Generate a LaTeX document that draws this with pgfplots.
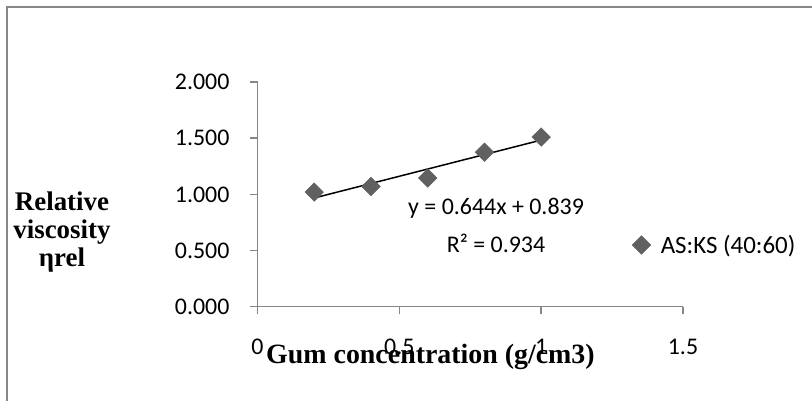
\documentclass[border=0pt]{standalone}
\usepackage{pgfplots}
\pgfplotsset{compat=1.18}
\usepackage{fontspec}
\setmainfont{Carlito}
\newfontfamily\labfont{Liberation Serif}
\definecolor{markgray}{RGB}{96,96,96}
\definecolor{axgray}{RGB}{134,134,134}
\definecolor{framegray}{RGB}{136,136,136}

\begin{document}
\begin{tikzpicture}
\path[use as bounding box] (0bp,0bp) rectangle (812bp,401bp);
% chart area frame (top and left edges)
\draw[framegray, line width=2bp] (7bp,0bp) -- (7bp,394bp) -- (812bp,394bp);
\begin{axis}[
  at={(257.5bp,94.3bp)}, anchor=south west,
  scale only axis, width=425.5bp, height=224.7bp,
  xmin=0, xmax=1.5, ymin=0, ymax=2,
  axis lines*=left,
  axis line style={axgray, line width=1.5bp},
  tick style={axgray, line width=1.5bp},
  tick align=outside, major tick length=7.5bp,
  xtick={0,0.5,1,1.5}, ytick={0,0.5,1,1.5,2},
  /pgf/number format/assume math mode=true,
  tick label style={font=\fontsize{24}{28}\selectfont, text=black},
  yticklabel style={/pgf/number format/.cd, fixed, fixed zerofill, precision=3,
    /tikz/.cd, xshift=-17bp},
  xticklabel style={yshift=-21bp},
  xlabel={Gum concentration (g/cm3)},
  every axis x label/.style={at={(axis description cs:0.4065,-0.2506)}, anchor=base,
    font=\labfont\bfseries\fontsize{28}{28}\selectfont},
  ylabel={Relative\\viscosity\\ηrel},
  every axis y label/.style={at={(axis description cs:-0.4595,0.332)}, anchor=center,
    align=center, font=\labfont\bfseries\fontsize{27}{28}\selectfont},
  legend style={draw=none, fill=none, at={(axis description cs:0.88,0.275)}, anchor=west,
    font=\fontsize{25}{28}\selectfont, inner sep=0pt,
    /tikz/every odd column/.append style={column sep=8bp}},
  legend image code/.code={\draw[#1] plot coordinates {(9bp,0bp)};},
  clip=false,
]
% measured relative viscosity
\addplot[only marks, mark=square*, mark size=6.6bp, color=markgray,
  mark options={rotate=45}] coordinates {
  (0.2,1.020) (0.4,1.070) (0.6,1.145) (0.8,1.375) (1.0,1.510)
};
\addlegendentry{AS:KS (40:60)}
% linear fit y = 0.644x + 0.839
\addplot[black, line width=1.5bp, forget plot] coordinates {
  (0.2,0.9678) (1.0,1.483)
};
\node[font=\fontsize{24}{28}\selectfont] at (axis cs:0.841,0.879) {y = 0.644x + 0.839};
\node[font=\fontsize{24}{28}\selectfont] at (axis cs:0.841,0.567) {R² = 0.934};
\end{axis}
\end{tikzpicture}
\end{document}
